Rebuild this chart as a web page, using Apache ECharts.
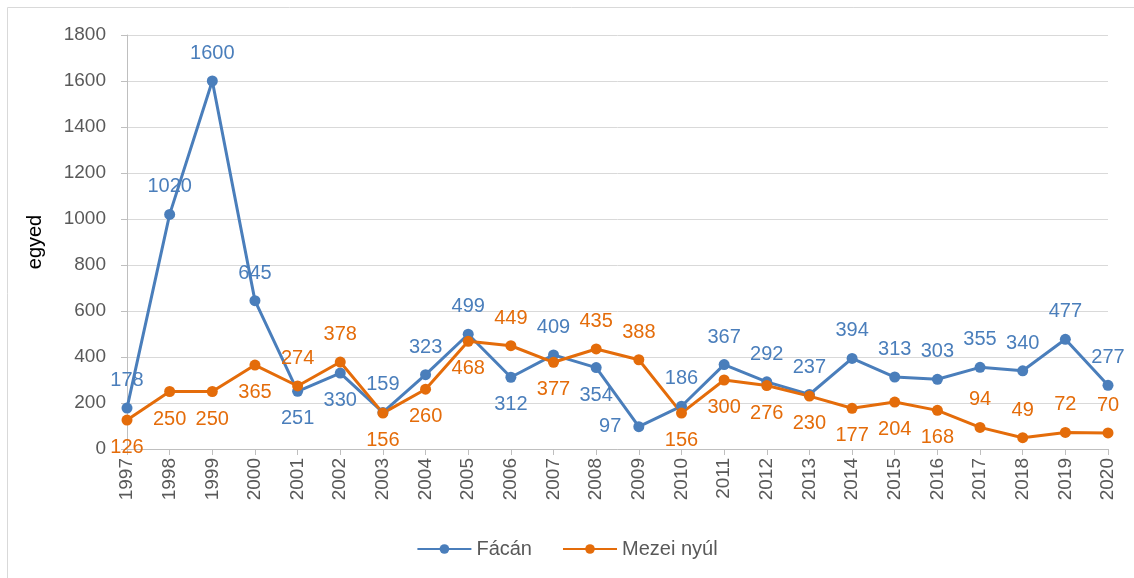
<!DOCTYPE html>
<html>
<head>
<meta charset="utf-8">
<script src="https://cdn.jsdelivr.net/npm/echarts@6/dist/echarts.min.js"></script>
<style>
    html, body { margin: 0; padding: 0; background: #fff; }
    #chart { width: 1134px; height: 578px; }
</style>
</head>
<body>
<div id="chart"></div>
<script>
// adatok
const years = ['1997','1998','1999','2000','2001','2002','2003','2004','2005','2006','2007','2008',
    '2009','2010','2011','2012','2013','2014','2015','2016','2017','2018','2019','2020'];
const facan = [178,1020,1600,645,251,330,159,323,499,312,409,354,97,186,367,292,237,394,313,303,355,340,477,277];
const mezeiNyul = [126,250,250,365,274,378,156,260,468,449,377,435,388,156,300,276,230,177,204,168,94,49,72,70];
// címke helyek (t = fent, b = lent, l = bal)
const facanPos = ['t','t','t','t','b','b','t','t','t','b','t','b','l','t','t','t','t','t','t','t','t','t','t','t'];
const nyulPos = ['b','b','b','b','t','t','b','b','b','t','b','t','t','b','b','b','b','b','b','b','t','t','t','t'];

const posMap = { t: 'top', b: 'bottom', l: 'left' };
const blue = '#4a7ebb';
const orange = '#e46c0a';
const font = 'Liberation Sans, Arial, sans-serif';

function withLabels(values, pos) {
    return values.map((v, i) => ({
        value: v,
        label: { position: posMap[pos[i]] }
    }));
}

function makeSeries(name, values, pos, color) {
    return {
        name: name,
        type: 'line',
        data: withLabels(values, pos),
        symbol: 'circle',
        symbolSize: 11,
        lineStyle: { width: 3, color: color },
        itemStyle: { color: color },
        label: {
            show: true,
            color: color,
            fontSize: 20,
            fontFamily: font,
            distance: 12
        }
    };
}

const chart = echarts.init(document.getElementById('chart'));
chart.setOption({
    animation: false,
    textStyle: { fontFamily: font },
    grid: { left: 127, right: 26, top: 35, bottom: 129 },
    graphic: [{
        type: 'rect',
        shape: { x: 7.5, y: 7.5, width: 1300, height: 700 },
        style: { fill: 'none', stroke: '#d9d9d9', lineWidth: 1 },
        silent: true
    }],
    legend: {
        bottom: 14,
        left: 'center',
        itemWidth: 54,
        itemHeight: 12,
        itemGap: 30,
        textStyle: { fontSize: 20, color: '#595959', fontFamily: font },
        data: ['Fácán', 'Mezei nyúl']
    },
    xAxis: {
        type: 'category',
        data: years,
        boundaryGap: false,
        axisLine: { lineStyle: { color: '#bfbfbf', width: 1 } },
        axisTick: { show: true, alignWithLabel: true, length: 6, lineStyle: { color: '#bfbfbf' } },
        axisLabel: { rotate: 90, fontSize: 19, color: '#595959', margin: 9, interval: 0 },
        splitLine: { show: false }
    },
    yAxis: {
        type: 'value',
        min: 0,
        max: 1800,
        interval: 200,
        name: 'egyed',
        nameLocation: 'middle',
        nameGap: 82,
        nameTextStyle: { fontSize: 20, color: '#000', fontFamily: font },
        axisLine: { show: true, lineStyle: { color: '#bfbfbf' } },
        axisTick: { show: true, length: 6, lineStyle: { color: '#bfbfbf' } },
        axisLabel: { fontSize: 19, color: '#595959', margin: 21, formatter: v => String(v) },
        splitLine: { lineStyle: { color: '#d9d9d9', width: 1 } }
    },
    series: [
        makeSeries('Fácán', facan, facanPos, blue),
        makeSeries('Mezei nyúl', mezeiNyul, nyulPos, orange)
    ]
});
</script>
</body>
</html>
